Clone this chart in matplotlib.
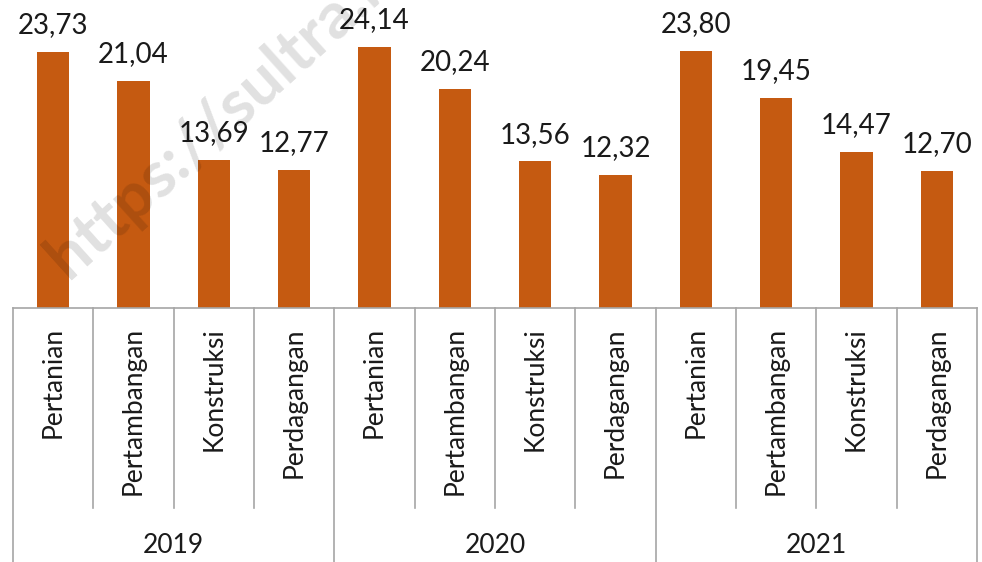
import matplotlib.pyplot as plt

years = ['2019', '2020', '2021']
sectors = ['Pertanian', 'Pertambangan', 'Konstruksi', 'Perdagangan']
values = [23.73, 21.04, 13.69, 12.77,
          24.14, 20.24, 13.56, 12.32,
          23.80, 19.45, 14.47, 12.70]

plt.rcParams['font.family'] = ['Lato', 'DejaVu Sans']

fig = plt.figure(figsize=(9.82, 5.62), dpi=100)
ax = fig.add_axes([13 / 982, 254 / 562, 964 / 982, 308 / 562])

n = len(values)
x = list(range(n))
ax.bar(x, values, width=0.4, color='#C55A11', zorder=2)

# value labels above the bars, decimal comma
for xi, v in zip(x, values):
    ax.annotate(f'{v:.2f}'.replace('.', ','), (xi, v), xytext=(0, 13.5),
                textcoords='offset points', ha='center', va='baseline',
                fontsize=20, color='#1a1a1a', annotation_clip=False)

ax.set_xlim(-0.5, n - 0.5)
ax.set_ylim(0, 28.5)
ax.set_xticks([])
ax.set_yticks([])
for s in ['top', 'left', 'right']:
    ax.spines[s].set_visible(False)
ax.spines['bottom'].set_color('#a6a6a6')
ax.spines['bottom'].set_linewidth(1.2)

# two-level category axis
tr = ax.get_xaxis_transform()
grid_col = '#a6a6a6'
for k in range(n + 1):
    b = k - 0.5
    if k % 4 == 0:
        ax.plot([b, b], [0, -0.83], transform=tr, color=grid_col, lw=1.2, clip_on=False)
    else:
        ax.plot([b, b], [0, -0.649], transform=tr, color=grid_col, lw=1.2, clip_on=False)

for i in x:
    ax.text(i, -0.062, sectors[i % 4], transform=tr, rotation=90, ha='center',
            va='top', fontsize=19, color='#1a1a1a')

for g, yr in enumerate(years):
    ax.text(g * 4 + 1.5, -0.77, yr, transform=tr, ha='center', va='center',
            fontsize=19, color='#1a1a1a')

# watermark
fig.text(0.07, 0.502, 'https://sultra.bps.go.id', rotation=42, fontsize=47,
         fontweight='bold', color='black', alpha=0.12, ha='left', va='baseline',
         rotation_mode='anchor', zorder=5)

fig.savefig('out.png', dpi=100)
